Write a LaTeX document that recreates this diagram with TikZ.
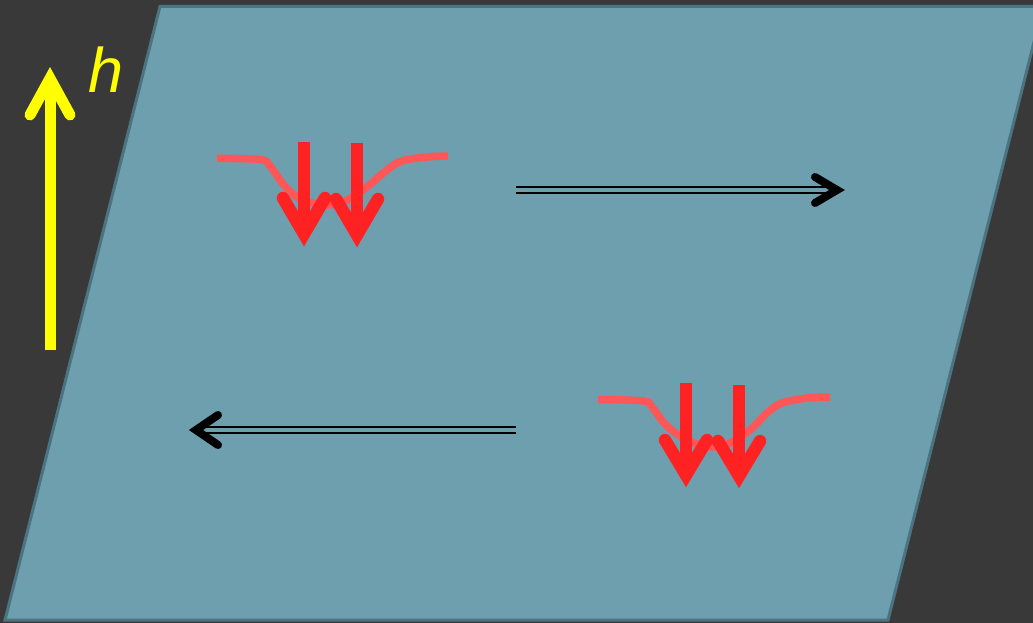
\documentclass[tikz,border=0pt]{standalone}
\usepackage{fontspec}
\setmainfont{Liberation Sans}
\begin{document}
\begin{tikzpicture}[x=1pt,y=-1pt,
  plane/.style={fill=planefill,draw=planeedge,line width=3pt,line join=miter},
  dipcurve/.style={draw=curvered,line width=7.5pt,line cap=butt,line join=round},
  spin/.style={draw=spinred,line width=12.5pt},
  barb/.style={line cap=round,line join=miter,miter limit=10},
  flow/.style={draw=black,double=planefill,double distance=3.4pt,line width=2pt},
]
\definecolor{bgdark}{HTML}{393939}
\definecolor{planefill}{HTML}{6D9FAE}
\definecolor{planeedge}{HTML}{4C7380}
\definecolor{curvered}{HTML}{FF5757}
\definecolor{spinred}{HTML}{FF2222}
\definecolor{fieldyellow}{HTML}{FFFF00}

% canvas
\useasboundingbox (0,0) rectangle (1033,623);
\fill[bgdark] (0,0) rectangle (1033,623);

% tilted plane
\begin{scope}
\clip (0,0) rectangle (1033,623);
\path[plane] (160,6.5) -- (1043,6.5) -- (888,620) -- (5,620) -- cycle;
\end{scope}

% field direction h
\coordinate (hbot) at (50,350);
\coordinate (htip) at (50,78.5);
\draw[fieldyellow,line width=11pt] (hbot) -- (htip);
\draw[fieldyellow,line width=11pt,barb] (30,115) -- (htip) -- (70,115);
\node[text=fieldyellow,font=\fontsize{63}{63}\selectfont\itshape,anchor=base] (hlabel) at (106,93) {h};

% upper pair of spins on a dip
\draw[dipcurve] plot[smooth,tension=0.6] coordinates {(217,158.5) (260,159.5) (270,166) (283,184) (297,197) (312,203) (327,205) (343,202) (363,190) (387,170) (402,161) (427,157) (448,156)};
\coordinate (s1top) at (304,142);
\coordinate (s1tip) at (304,234);
\coordinate (s2top) at (357,143);
\coordinate (s2tip) at (357,235);
\draw[spin] (s1top) -- (s1tip);
\draw[spin,barb] (283,198) -- (s1tip) -- (325,198);
\draw[spin] (s2top) -- (s2tip);
\draw[spin,barb] (336,199) -- (s2tip) -- (378,199);

% motion to the right
\coordinate (r0) at (516,190);
\coordinate (r1) at (837,190);
\draw[flow] (r0) -- (r1);
\draw[line width=8pt,barb] (815,177) -- (r1) -- (815,203);

% lower pair of spins on a dip
\draw[dipcurve] plot[smooth,tension=0.6] coordinates {(598,399.5) (643,401) (652,407) (665,424) (680,436) (697,444) (713,447) (730,443) (750,430) (767,413) (782,403) (807,398) (830,397)};
\coordinate (s3top) at (686,383);
\coordinate (s3tip) at (686,475);
\coordinate (s4top) at (739,385);
\coordinate (s4tip) at (739,476);
\draw[spin] (s3top) -- (s3tip);
\draw[spin,barb] (665,440) -- (s3tip) -- (707,440);
\draw[spin] (s4top) -- (s4tip);
\draw[spin,barb] (718,441) -- (s4tip) -- (760,441);

% motion to the left
\coordinate (l0) at (516,430);
\coordinate (l1) at (196,430);
\draw[flow] (l0) -- (l1);
\draw[line width=8pt,barb] (218,415) -- (l1) -- (218,445);
\end{tikzpicture}
\end{document}
